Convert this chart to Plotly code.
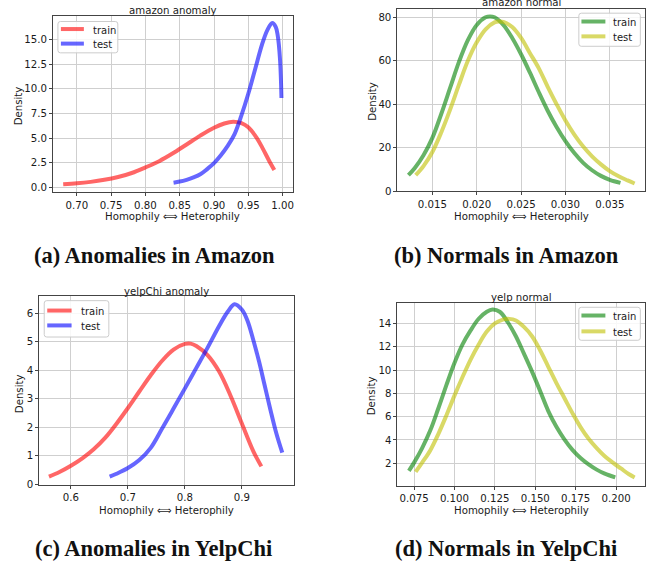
import plotly.graph_objects as go

W, H = 667, 571

# ---------------- data ----------------
# (a) amazon anomaly
a_train_x = [0.680, 0.700, 0.720, 0.740, 0.760, 0.780, 0.800, 0.820, 0.840, 0.860, 0.880,
             0.900, 0.915, 0.928, 0.940, 0.950, 0.9625, 0.971, 0.980, 0.988]
a_train_y = [0.30, 0.40, 0.55, 0.76, 1.05, 1.45, 2.02, 2.65, 3.45, 4.35, 5.25,
             6.05, 6.48, 6.66, 6.52, 6.10, 5.00, 3.95, 2.75, 1.75]
a_test_x = [0.841, 0.850, 0.860, 0.870, 0.880, 0.890, 0.900, 0.910, 0.920, 0.930, 0.940,
            0.950, 0.960, 0.970, 0.978, 0.985, 0.990, 0.993, 0.9963, 0.9984]
a_test_y = [0.47, 0.58, 0.76, 1.00, 1.32, 1.85, 2.45, 3.25, 4.20, 5.40, 7.30,
            9.50, 12.0, 14.5, 16.0, 16.7, 16.3, 15.4, 13.0, 9.07]

# (b) amazon normal
b_train_x = [0.0123, 0.0130, 0.0140, 0.0150, 0.0160, 0.0170, 0.0180, 0.0190, 0.0200, 0.0210,
             0.0215, 0.0220, 0.0230, 0.0240, 0.0250, 0.0260, 0.0270, 0.0280, 0.0290, 0.0300,
             0.0310, 0.0320, 0.0330, 0.0340, 0.0350, 0.0362]
b_train_y = [7.3, 10.5, 16.5, 24.5, 35.5, 47.5, 59.5, 69.5, 76.5, 80.0,
             80.4, 80.0, 76.5, 70.5, 63.0, 54.5, 45.5, 37.0, 29.5, 23.0,
             17.5, 13.0, 9.6, 7.0, 5.2, 3.8]
b_test_x = [0.01312, 0.0140, 0.0150, 0.0160, 0.0170, 0.0180, 0.0190, 0.0200, 0.0210, 0.0220,
            0.02251, 0.0230, 0.0240, 0.0250, 0.0260, 0.0270, 0.0280, 0.0290, 0.0300, 0.0310,
            0.0320, 0.0330, 0.0340, 0.0350, 0.0360, 0.0370, 0.0378]
b_test_y = [7.3, 11.5, 18.0, 27.0, 37.5, 49.0, 60.0, 68.5, 74.5, 77.7,
            78.1, 77.9, 75.5, 70.5, 63.5, 56.5, 48.0, 40.0, 32.5, 26.0,
            20.5, 16.0, 12.3, 9.2, 6.8, 4.9, 3.5]

# (c) yelpChi anomaly
c_train_x = [0.5615, 0.580, 0.600, 0.620, 0.640, 0.660, 0.680, 0.700, 0.720, 0.740, 0.760,
             0.780, 0.800, 0.810, 0.820, 0.840, 0.860, 0.880, 0.900, 0.920, 0.934]
c_train_y = [0.26, 0.42, 0.64, 0.90, 1.22, 1.62, 2.12, 2.67, 3.25, 3.82, 4.33,
             4.72, 4.92, 4.93, 4.85, 4.52, 3.95, 3.10, 2.12, 1.15, 0.62]
c_test_x = [0.668, 0.680, 0.700, 0.720, 0.740, 0.760, 0.780, 0.800, 0.820, 0.840, 0.860,
            0.875, 0.887, 0.900, 0.910, 0.920, 0.930, 0.940, 0.950, 0.960, 0.9707]
c_test_y = [0.26, 0.36, 0.56, 0.84, 1.27, 1.95, 2.65, 3.36, 4.08, 4.80, 5.55,
            6.05, 6.31, 6.12, 5.72, 5.05, 4.30, 3.45, 2.60, 1.80, 1.10]

# (d) yelp normal
d_train_x = [0.0718, 0.075, 0.080, 0.085, 0.090, 0.095, 0.100, 0.105, 0.110, 0.115, 0.120,
             0.1236, 0.128, 0.133, 0.138, 0.143, 0.148, 0.153, 0.158, 0.163, 0.168, 0.173,
             0.178, 0.183, 0.188, 0.193, 0.1995]
d_train_y = [1.35, 2.05, 3.30, 4.80, 6.70, 8.70, 10.6, 12.2, 13.4, 14.4, 15.0,
             15.19, 15.0, 14.1, 12.9, 11.4, 9.86, 8.20, 6.50, 5.15, 4.05, 3.15,
             2.45, 1.90, 1.45, 1.10, 0.78]
d_test_x = [0.076, 0.080, 0.085, 0.090, 0.095, 0.100, 0.105, 0.110, 0.115, 0.120, 0.125,
            0.130, 0.1339, 0.138, 0.143, 0.148, 0.153, 0.158, 0.163, 0.168, 0.173, 0.178,
            0.183, 0.188, 0.193, 0.198, 0.203, 0.208, 0.2115]
d_test_y = [1.26, 2.05, 3.10, 4.50, 6.10, 7.80, 9.40, 10.9, 12.2, 13.3, 14.0,
            14.33, 14.39, 14.25, 13.7, 12.9, 11.7, 10.3, 8.90, 7.60, 6.30, 5.10,
            4.10, 3.30, 2.60, 2.05, 1.55, 1.05, 0.78]

titles = ["amazon anomaly", "amazon normal", "yelpChi anomaly", "yelp normal"]
captions = ["(a) Anomalies in Amazon", "(b) Normals in Amazon",
            "(c) Anomalies in YelpChi", "(d) Normals in YelpChi"]
series_names = ["train", "test"]
xlabel = "Homophily \u27fa Heterophily"
ylabel = "Density"

# ---------------- layout geometry (pixels) ----------------
boxes = [(53, 293, 15.7, 194), (398, 646, 8.7, 193),
         (39.3, 294, 299, 489), (398, 646.3, 305.7, 490)]
xranges = [[0.665, 1.0146], [0.01106, 0.03897], [0.5445, 0.9905], [0.0647, 0.2181]]
yranges = [[-0.51, 17.45], [-0.1, 84.0], [-0.024, 6.59], [0.07, 15.75]]
xticks = [dict(tick0=0.70, dtick=0.05, tickformat=".2f"),
          dict(tick0=0.015, dtick=0.005, tickformat=".3f"),
          dict(tick0=0.6, dtick=0.1, tickformat=".1f"),
          dict(tick0=0.075, dtick=0.025, tickformat=".3f")]
yticks = [dict(tick0=0, dtick=2.5, tickformat=".1f"),
          dict(tick0=0, dtick=20, tickformat="d"),
          dict(tick0=0, dtick=1, tickformat="d"),
          dict(tick0=0, dtick=2, tickformat="d")]
DY = 2.0  # visual centring correction for annotations
title_pos = [(173, 9), (522, 1), (166.5, 291.7), (522, 297.7)]
ylabel_pos = [(18.3, 107), (372.3, 102), (19, 396.7), (372.3, 399)]
xlabel_pos = [(173, 216.7), (521.8, 216), (166.8, 513.3), (521.8, 513.3)]
caption_pos = [(154.5, 256), (507, 256), (154, 551), (507, 551)]
# legend: box (x0, x1, y0, y1), sample (x0, x1), row y (train, test), text x
legend_geo = [
    ((58, 118, 21.7, 53.3), (61, 84), (29.3, 44.0), 90.7),
    ((579.7, 641.3, 13.3, 46.7), (582.3, 606.3), (21.7, 36.7), 612.3),
    ((44.3, 109, 303.3, 340), (47.3, 71.7), (313.3, 328.3), 79),
    ((579.7, 641.3, 310, 343.3), (582.3, 606.3), (318.3, 334.3), 612.3),
]

red = "rgba(255,0,0,0.6)"
blue = "rgba(0,0,255,0.6)"
green = "rgba(0,128,0,0.6)"
yellow = "rgba(191,191,0,0.6)"

data = [
    (a_train_x, a_train_y, a_test_x, a_test_y, red, blue),
    (b_train_x, b_train_y, b_test_x, b_test_y, green, yellow),
    (c_train_x, c_train_y, c_test_x, c_test_y, red, blue),
    (d_train_x, d_train_y, d_test_x, d_test_y, green, yellow),
]

FONT = "DejaVu Sans"
TXT = "#1a1a1a"
fig = go.Figure()


def PX(x):
    return x / W


def PY(y):
    return 1 - y / H


def rounded_rect(x0, x1, y0, y1, r=2.5):
    pts = [
        f"M {PX(x0 + r)},{PY(y0)}", f"L {PX(x1 - r)},{PY(y0)}",
        f"Q {PX(x1)},{PY(y0)} {PX(x1)},{PY(y0 + r)}", f"L {PX(x1)},{PY(y1 - r)}",
        f"Q {PX(x1)},{PY(y1)} {PX(x1 - r)},{PY(y1)}", f"L {PX(x0 + r)},{PY(y1)}",
        f"Q {PX(x0)},{PY(y1)} {PX(x0)},{PY(y1 - r)}", f"L {PX(x0)},{PY(y0 + r)}",
        f"Q {PX(x0)},{PY(y0)} {PX(x0 + r)},{PY(y0)}", "Z",
    ]
    return " ".join(pts)


for i, (tx, ty, sx, sy, c1, c2) in enumerate(data):
    n = "" if i == 0 else str(i + 1)
    cols = (c1, c2)
    for xs, ys, col, name in ((tx, ty, c1, series_names[0]), (sx, sy, c2, series_names[1])):
        fig.add_trace(go.Scatter(
            x=xs, y=ys, mode="lines", name=name, showlegend=False,
            line=dict(color=col, width=4, shape="spline", smoothing=1.0),
            xaxis="x" + n, yaxis="y" + n, hoverinfo="skip"))

    l, r, t, b = boxes[i]
    axis_common = dict(showline=True, mirror=True, linecolor="#444444", linewidth=1,
                       showgrid=True, gridcolor="#cfcfcf", gridwidth=1,
                       ticks="outside", ticklen=3, tickcolor="#444444", tickwidth=1,
                       zeroline=False, tickfont=dict(family=FONT, size=10.2, color=TXT),
                       tickmode="linear")
    fig.layout["xaxis" + n] = dict(domain=[l / W, r / W], range=xranges[i],
                                   anchor="y" + n, **xticks[i], **axis_common)
    fig.layout["yaxis" + n] = dict(domain=[1 - b / H, 1 - t / H], range=yranges[i],
                                   anchor="x" + n, **yticks[i], **axis_common)

    # legend (drawn in the panel's corner, matplotlib style)
    (bx0, bx1, by0, by1), (sx0, sx1), rows, textx = legend_geo[i]
    fig.add_shape(type="path", path=rounded_rect(bx0, bx1, by0, by1),
                  xref="paper", yref="paper", fillcolor="rgba(255,255,255,0.85)",
                  line=dict(color="#cccccc", width=1), layer="above")
    for k in range(2):
        fig.add_shape(type="line", xref="paper", yref="paper",
                      x0=PX(sx0), x1=PX(sx1), y0=PY(rows[k]), y1=PY(rows[k]),
                      line=dict(color=cols[k], width=4), layer="above")
        fig.add_annotation(text=series_names[k], x=PX(textx), y=PY(rows[k] + DY * 0.5),
                           xref="paper", yref="paper", showarrow=False,
                           xanchor="left", yanchor="middle",
                           font=dict(family=FONT, size=10, color=TXT))

    tx_, ty_ = title_pos[i]
    fig.add_annotation(text=titles[i], x=PX(tx_), y=PY(ty_ + DY), xref="paper", yref="paper",
                       showarrow=False, xanchor="center", yanchor="middle",
                       font=dict(family=FONT, size=10.2, color=TXT))
    yx, yy = ylabel_pos[i]
    fig.add_annotation(text=ylabel, x=PX(yx), y=PY(yy), xref="paper", yref="paper",
                       showarrow=False, xanchor="center", yanchor="middle", textangle=-90,
                       font=dict(family=FONT, size=10.2, color=TXT))
    xx, xy = xlabel_pos[i]
    fig.add_annotation(text=xlabel, x=PX(xx), y=PY(xy + DY), xref="paper", yref="paper",
                       showarrow=False, xanchor="center", yanchor="middle",
                       font=dict(family=FONT, size=10.2, color=TXT))
    cx, cy = caption_pos[i]
    fig.add_annotation(text="<b>" + captions[i] + "</b>", x=PX(cx), y=PY(cy + DY),
                       xref="paper", yref="paper", showarrow=False,
                       xanchor="center", yanchor="middle",
                       font=dict(family="Liberation Serif", size=22.5, color="#111"))

fig.update_layout(width=W, height=H, margin=dict(l=0, r=0, t=0, b=0),
                  paper_bgcolor="white", plot_bgcolor="white", showlegend=False)

fig.write_html("out.html", config={"displayModeBar": False},
               post_script="document.body.style.margin='0';")
